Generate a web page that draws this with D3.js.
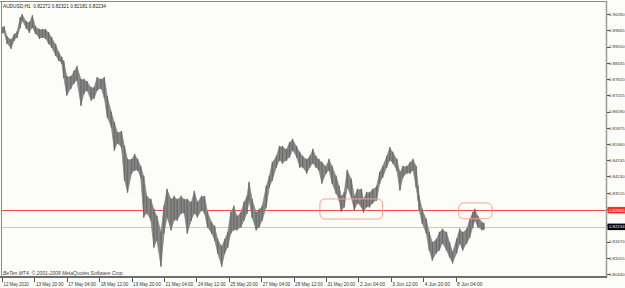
<!DOCTYPE html>
<html>
<head>
<meta charset="utf-8">
<script src="https://cdn.jsdelivr.net/npm/d3@7"></script>
<style>
  body { margin: 0; background: #fff; }
  text { font-family: "Liberation Sans", Arial, sans-serif; }
</style>
</head>
<body>
<script>
// hourly AUDUSD samples (bar index, high, low)
const bars = [0, 2, 5, 9, 12, 15, 18, 20, 24, 27, 30, 33, 37, 40, 43, 46, 49, 53, 56, 59,
  61, 64, 68, 71, 74, 78, 81, 84, 88, 91, 94, 98, 101, 104, 108, 111, 114, 118, 121, 124,
  128, 131, 134, 137, 140, 143, 147, 150, 153, 157, 160, 163, 167, 170, 173, 177, 180, 183, 187, 190,
  193, 197, 200, 203, 207, 210, 213, 217, 220, 223, 226, 229, 232, 236, 239, 242, 244, 247, 251, 254,
  257, 261, 264, 267, 271, 274, 277, 281, 284, 287, 291, 294, 297, 301, 304, 307, 310, 313, 316, 320,
  323, 326, 330, 333, 335, 338, 341, 345, 348, 351, 355, 357, 360, 363, 366, 370, 373, 376, 380, 383,
  386, 390, 393, 396, 400, 403, 406, 409, 411, 412, 415, 419, 422, 425, 429, 432, 435, 439, 442, 445,
  449, 452, 455, 459, 462, 465, 467, 470, 474, 476];
const highs = [0.8975, 0.8979, 0.8941, 0.8930, 0.8949, 0.8960, 0.9013, 0.9024, 0.8998, 0.8994, 0.9020, 0.8979, 0.8968, 0.8968, 0.8968, 0.8956, 0.8937, 0.8911, 0.8881, 0.8862,
  0.8847, 0.8790, 0.8790, 0.8809, 0.8828, 0.8779, 0.8779, 0.8771, 0.8748, 0.8748, 0.8786, 0.8779, 0.8786, 0.8714, 0.8654, 0.8616, 0.8578, 0.8582, 0.8525, 0.8476,
  0.8476, 0.8495, 0.8476, 0.8450, 0.8412, 0.8336, 0.8325, 0.8287, 0.8261, 0.8200, 0.8299, 0.8363, 0.8325, 0.8336, 0.8325, 0.8336, 0.8325, 0.8325, 0.8314, 0.8355,
  0.8314, 0.8336, 0.8336, 0.8276, 0.8238, 0.8223, 0.8174, 0.8147, 0.8174, 0.8200, 0.8276, 0.8299, 0.8261, 0.8276, 0.8314, 0.8336, 0.8389, 0.8325, 0.8276, 0.8287,
  0.8299, 0.8374, 0.8412, 0.8465, 0.8488, 0.8525, 0.8525, 0.8514, 0.8540, 0.8552, 0.8525, 0.8503, 0.8488, 0.8476, 0.8488, 0.8514, 0.8488, 0.8476, 0.8465, 0.8450,
  0.8476, 0.8450, 0.8412, 0.8374, 0.8336, 0.8351, 0.8435, 0.8401, 0.8336, 0.8363, 0.8363, 0.8325, 0.8351, 0.8351, 0.8363, 0.8374, 0.8427, 0.8450, 0.8488, 0.8521,
  0.8503, 0.8476, 0.8427, 0.8450, 0.8450, 0.8465, 0.8476, 0.8450, 0.8374, 0.8336, 0.8287, 0.8249, 0.8200, 0.8162, 0.8174, 0.8200, 0.8212, 0.8200, 0.8162, 0.8125,
  0.8174, 0.8212, 0.8200, 0.8212, 0.8249, 0.8276, 0.8287, 0.8261, 0.8238, 0.8234];
const lows = [0.8956, 0.8960, 0.8918, 0.8899, 0.8930, 0.8941, 0.8979, 0.9005, 0.8975, 0.8960, 0.8979, 0.8956, 0.8937, 0.8941, 0.8937, 0.8918, 0.8903, 0.8873, 0.8854, 0.8843,
  0.8790, 0.8722, 0.8748, 0.8767, 0.8779, 0.8684, 0.8729, 0.8741, 0.8703, 0.8711, 0.8741, 0.8748, 0.8714, 0.8639, 0.8601, 0.8514, 0.8541, 0.8525, 0.8401, 0.8355,
  0.8427, 0.8438, 0.8438, 0.8412, 0.8261, 0.8276, 0.8249, 0.8147, 0.8174, 0.8075, 0.8200, 0.8261, 0.8212, 0.8249, 0.8249, 0.8276, 0.8276, 0.8200, 0.8249, 0.8276,
  0.8261, 0.8287, 0.8276, 0.8223, 0.8200, 0.8174, 0.8125, 0.8075, 0.8125, 0.8147, 0.8200, 0.8212, 0.8212, 0.8223, 0.8249, 0.8276, 0.8325, 0.8261, 0.8212, 0.8223,
  0.8249, 0.8299, 0.8374, 0.8401, 0.8450, 0.8476, 0.8465, 0.8476, 0.8488, 0.8514, 0.8488, 0.8450, 0.8450, 0.8427, 0.8450, 0.8465, 0.8450, 0.8438, 0.8389, 0.8427,
  0.8438, 0.8389, 0.8351, 0.8325, 0.8283, 0.8299, 0.8374, 0.8336, 0.8287, 0.8314, 0.8299, 0.8280, 0.8299, 0.8299, 0.8314, 0.8325, 0.8389, 0.8412, 0.8450, 0.8476,
  0.8465, 0.8438, 0.8363, 0.8412, 0.8427, 0.8427, 0.8438, 0.8374, 0.8325, 0.8287, 0.8238, 0.8200, 0.8136, 0.8098, 0.8125, 0.8136, 0.8162, 0.8136, 0.8110, 0.8087,
  0.8125, 0.8162, 0.8136, 0.8162, 0.8185, 0.8223, 0.8249, 0.8223, 0.8212, 0.8215];

// time axis labels, one every 32 bars
const timeLabels = ["12 May 2010", "13 May 20:00", "17 May 04:00", "18 May 12:00", "19 May 20:00",
  "21 May 04:00", "24 May 12:00", "25 May 20:00", "27 May 04:00", "28 May 12:00",
  "31 May 20:00", "2 Jun 04:00", "3 Jun 12:00", "4 Jun 20:00", "8 Jun 04:00"];
const priceTicks = ["0.80440", "0.81055", "0.81670", "0.82285", "0.82900", "0.83515", "0.84130",
  "0.84745", "0.85360", "0.85975", "0.86590", "0.87205", "0.87820", "0.88435", "0.89050",
  "0.89665", "0.90280"];

const title = "AUDUSD,H1  0.82272 0.82321 0.82181 0.82234";
const levelPrice = 0.82865;
const bidPrice = 0.82234;
// highlighted zones: [first bar, last bar, top price, bottom price]
const zones = [[314, 376, 0.8328, 0.8252], [451, 484, 0.8313, 0.8253]];

const width = 625;
const height = 288;
const plotRight = 606;

const x = d3.scaleLinear().domain([0, 448]).range([2, 455.6]);
const y = d3.scaleLinear().domain([0.80440, 0.90280]).range([274, 14]);

const svg = d3.select("body").append("svg")
    .attr("width", width)
    .attr("height", height);

svg.append("rect")
    .attr("width", width)
    .attr("height", height)
    .attr("fill", "#fcfdf9");

// price level lines
svg.append("line")
    .attr("x1", 1).attr("x2", plotRight)
    .attr("y1", Math.round(y(bidPrice)) + 0.5).attr("y2", Math.round(y(bidPrice)) + 0.5)
    .attr("stroke", "#c9cac0");

svg.append("line")
    .attr("x1", 1).attr("x2", plotRight)
    .attr("y1", Math.round(y(levelPrice)) + 0.5).attr("y2", Math.round(y(levelPrice)) + 0.5)
    .attr("stroke", "#ff4a4a");

// price series as a band between highs and lows
const pts = bars.map((b, i) => ({ b, hi: highs[i], lo: lows[i] }));

svg.append("path")
    .datum(pts)
    .attr("fill", "#868686")
    .attr("stroke", "#868686")
    .attr("stroke-width", 0.8)
    .attr("d", d3.area()
        .x(d => x(d.b))
        .y0(d => y(d.lo))
        .y1(d => y(d.hi)));

svg.append("g")
    .attr("stroke", "#6c6c6c")
    .attr("stroke-width", 1.3)
    .selectAll("line")
    .data(pts)
    .join("line")
    .attr("x1", d => x(d.b)).attr("x2", d => x(d.b))
    .attr("y1", d => y(d.hi) - 1).attr("y2", d => y(d.lo) + 1);

// annotation boxes
svg.append("g")
    .selectAll("rect")
    .data(zones)
    .join("rect")
    .attr("x", d => x(d[0]))
    .attr("y", d => y(d[2]))
    .attr("width", d => x(d[1]) - x(d[0]))
    .attr("height", d => y(d[3]) - y(d[2]))
    .attr("rx", 5)
    .attr("fill", "none")
    .attr("stroke", "#f7a48e")
    .attr("stroke-width", 1);

// frame
svg.append("line").attr("x1", 0).attr("x2", plotRight).attr("y1", 1.5).attr("y2", 1.5)
    .attr("stroke", "#8a8a8a");
svg.append("line").attr("x1", 1.5).attr("x2", 1.5).attr("y1", 1).attr("y2", 277)
    .attr("stroke", "#8a8a8a");
svg.append("line").attr("x1", plotRight + 0.5).attr("x2", plotRight + 0.5).attr("y1", 1).attr("y2", 278)
    .attr("stroke", "#9a9a9a").attr("stroke-width", 1.5);
svg.append("line").attr("x1", 0).attr("x2", plotRight + 1).attr("y1", 277).attr("y2", 277)
    .attr("stroke", "#6e6e6e").attr("stroke-width", 2);

// right price axis
const yAxis = svg.append("g");
yAxis.selectAll("line")
    .data(priceTicks)
    .join("line")
    .attr("x1", plotRight + 1).attr("x2", plotRight + 4)
    .attr("y1", d => Math.round(y(+d)) + 0.5).attr("y2", d => Math.round(y(+d)) + 0.5)
    .attr("stroke", "#555");
yAxis.selectAll("text")
    .data(priceTicks)
    .join("text")
    .attr("x", 609)
    .attr("y", d => y(+d) + 1.8)
    .attr("font-size", 4.3)
    .attr("fill", "#333")
    .text(d => d);

// current level / bid markers
const markers = [[levelPrice, "#ff2a2a"], [bidPrice, "#000"]];
markers.forEach(([p, c]) => {
    svg.append("rect")
        .attr("x", plotRight + 1.5).attr("y", y(p) - 3)
        .attr("width", width - plotRight).attr("height", 6.5)
        .attr("fill", c);
    svg.append("text")
        .attr("x", 609).attr("y", y(p) + 1.8)
        .attr("font-size", 4.3)
        .attr("fill", "#fff")
        .text(p.toFixed(5));
});

// time axis
const xAxis = svg.append("g");
xAxis.selectAll("line")
    .data(timeLabels)
    .join("line")
    .attr("x1", (d, i) => Math.round(x(i * 32)) + 0.5).attr("x2", (d, i) => Math.round(x(i * 32)) + 0.5)
    .attr("y1", 278).attr("y2", 282)
    .attr("stroke", "#555");
xAxis.selectAll("text")
    .data(timeLabels)
    .join("text")
    .attr("x", (d, i) => x(i * 32) + 1.5)
    .attr("y", 285.5)
    .attr("font-size", 5.3)
    .attr("textLength", d => d.length * 2.3)
    .attr("lengthAdjust", "spacingAndGlyphs")
    .attr("fill", "#333")
    .text(d => d);

// captions
svg.append("text")
    .attr("x", 3).attr("y", 7.5)
    .attr("font-size", 5.5)
    .attr("textLength", 103)
    .attr("lengthAdjust", "spacingAndGlyphs")
    .attr("fill", "#222")
    .attr("xml:space", "preserve")
    .text(title);

svg.append("text")
    .attr("x", 3).attr("y", 274.5)
    .attr("font-size", 5.3)
    .attr("textLength", 121)
    .attr("lengthAdjust", "spacingAndGlyphs")
    .attr("font-style", "italic")
    .attr("fill", "#444")
    .text("BeTen MT4, © 2001-2009 MetaQuotes Software Corp.");
</script>
</body>
</html>
